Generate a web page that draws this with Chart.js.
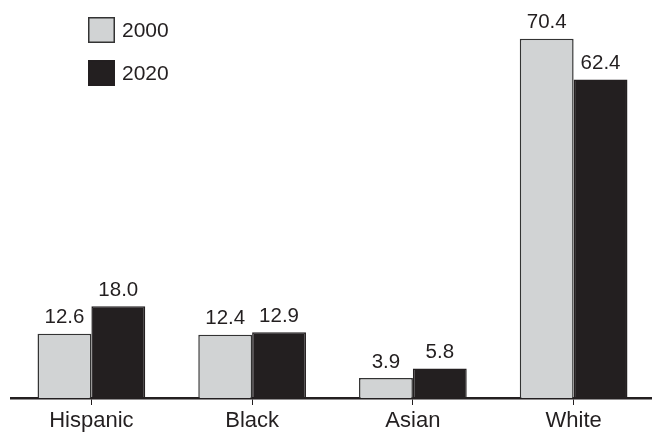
<!DOCTYPE html>
<html>
<head>
<meta charset="utf-8">
<script src="https://cdn.jsdelivr.net/npm/chart.js@4.4.1/dist/chart.umd.min.js"></script>
<style>
  html, body { margin: 0; padding: 0; background: #fff; overflow: hidden; }
  #wrap { position: relative; width: 654px; height: 433px; }
</style>
</head>
<body>
<div id="wrap"><canvas id="chart"></canvas></div>
<script>
// Datos del gráfico
const categorias = ['Hispanic', 'Black', 'Asian', 'White'];
const serie2000  = [12.6, 12.4, 3.9, 70.4];
const serie2020  = [18.0, 12.9, 5.8, 62.4];
const etiquetasSeries = ['2000', '2020'];

const FUENTE = '"Liberation Sans", Arial, Helvetica, sans-serif';
const GRIS  = '#d1d3d4';
const NEGRO = '#231f20';

// Valores encima de cada barra
const valoresPlugin = {
  id: 'valores',
  afterDatasetsDraw(chart) {
    const ctx = chart.ctx;
    ctx.save();
    ctx.font = '20.5px ' + FUENTE;
    ctx.fillStyle = '#231f20';
    ctx.textAlign = 'center';
    ctx.textBaseline = 'alphabetic';
    chart.data.datasets.forEach((ds, i) => {
      chart.getDatasetMeta(i).data.forEach((el, j) => {
        ctx.fillText(ds.data[j].toFixed(1), el.x, el.y - 10.5);
      });
    });
    ctx.restore();
  }
};

// Leyenda vertical arriba a la izquierda
const leyendaPlugin = {
  id: 'leyendaVertical',
  afterDraw(chart) {
    const ctx = chart.ctx;
    ctx.save();
    ctx.font = '21px ' + FUENTE;
    ctx.textBaseline = 'middle';
    chart.data.datasets.forEach((ds, i) => {
      const x = 88, y = 17 + i * 43;
      ctx.fillStyle = ds.backgroundColor;
      ctx.fillRect(x, y, 27, 26);
      ctx.strokeStyle = ds.borderColor;
      ctx.lineWidth = 1.5;
      ctx.strokeRect(x + 0.75, y + 0.75, 25.5, 24.5);
      ctx.fillStyle = '#231f20';
      ctx.fillText(ds.label, 122, y + 14);
    });
    ctx.restore();
  }
};

new Chart(document.getElementById('chart'), {
  type: 'bar',
  data: {
    labels: categorias,
    datasets: [
      { label: etiquetasSeries[0], data: serie2000, backgroundColor: GRIS,  borderColor: '#333333', borderWidth: 1.5 },
      { label: etiquetasSeries[1], data: serie2020, backgroundColor: NEGRO, borderColor: NEGRO,     borderWidth: 1.5 }
    ]
  },
  options: {
    responsive: true,
    maintainAspectRatio: false,
    animation: false,
    layout: { padding: { left: 11, right: 0, top: 0, bottom: 0 } },
    datasets: { bar: { categoryPercentage: 0.67, barPercentage: 1.0 } },
    plugins: { legend: { display: false }, tooltip: { enabled: false } },
    scales: {
      x: {
        grid: { display: true, drawOnChartArea: false, offset: false, tickLength: 7, color: '#231f20', lineWidth: 1 },
        border: { display: true, color: '#231f20', width: 2.5 },
        ticks: { color: '#231f20', font: { family: FUENTE, size: 22 }, padding: 3 },
        afterFit(scale) { scale.height = 35; }
      },
      y: {
        display: false,
        min: 0,
        max: 78
      }
    }
  },
  plugins: [valoresPlugin, leyendaPlugin]
});
</script>
</body>
</html>
